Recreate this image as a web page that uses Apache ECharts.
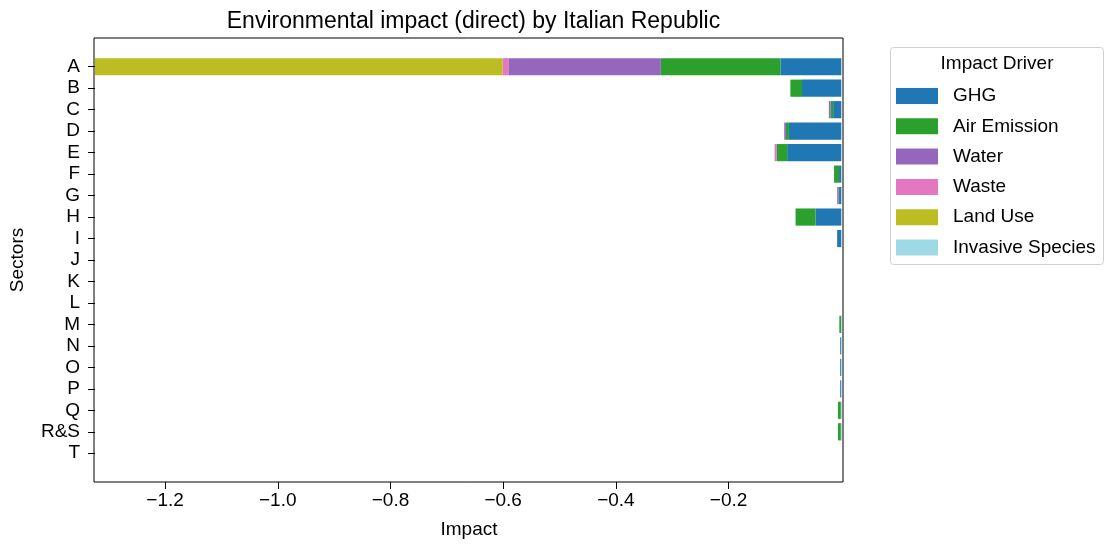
<!DOCTYPE html>
<html>
<head>
<meta charset="utf-8">
<script src="https://cdn.jsdelivr.net/npm/echarts@6/dist/echarts.min.js"></script>
<style>
  html, body { margin: 0; padding: 0; background: #fff; }
  #chart { width: 1107px; height: 546px; }
</style>
</head>
<body>
<div id="chart"></div>
<script>
// Sectors (top to bottom)
const sectors = ['A','B','C','D','E','F','G','H','I','J','K','L','M','N','O','P','Q','R&S','T'];

// Impact per driver and sector
const ghg       = [-0.108, -0.0697, -0.0145, -0.093, -0.0961, -0.004, -0.004, -0.0457, -0.0074, 0, 0, 0, -0.0005, -0.002, -0.002, -0.002, -0.001, -0.001, 0];
const airEm     = [-0.2122, -0.0207, -0.0046, -0.0053, -0.0183, -0.0089, -0.001, -0.0355, 0, 0, 0, 0, -0.003, 0, 0, 0, -0.005, -0.005, 0];
const water     = [-0.2706, 0, -0.003, -0.003, -0.001, 0, -0.0023, 0, 0, 0, 0, 0, 0, 0, 0, 0, 0, 0, 0];
const waste     = [-0.0101, 0, 0, 0, -0.003, 0, 0, 0, 0, 0, 0, 0, 0, 0, 0, 0, 0, 0, 0];
const landUse   = [-0.7234, 0, 0, 0, 0, 0, 0, 0, 0, 0, 0, 0, 0, 0, 0, 0, 0, 0, 0];
const invasive  = [0, 0, 0, 0, 0, 0, 0, 0, 0, 0, 0, 0, 0, 0, 0, 0, 0, 0, 0];

const driverNames = ['GHG', 'Air Emission', 'Water', 'Waste', 'Land Use', 'Invasive Species'];
const driverColors = ['#1f77b4', '#2ca02c', '#9467bd', '#e377c2', '#bcbd22', '#9edae5'];
const driverData = [ghg, airEm, water, waste, landUse, invasive];

// x tick labels
const xTicks = [-1.2, -1.0, -0.8, -0.6, -0.4, -0.2];

const FONT = '"Liberation Sans", Arial, sans-serif';

// axis limit: the most negative stacked total
const totals = sectors.map((_, i) => driverData.reduce((s, arr) => s + arr[i], 0));
const xMin = Math.min(...totals);
const xMax = 0.003;

// plot frame geometry
const frame = { x: 94, y: 38, w: 749, h: 444 };
const bandTop = 56, bandBottom = 464;

const chart = echarts.init(document.getElementById('chart'), null, { renderer: 'canvas' });

const fmt = v => (v < 0 ? '\u2212' : '') + Math.abs(v).toFixed(1);

chart.setOption({
  animation: false,
  title: {
    text: 'Environmental impact (direct) by Italian Republic',
    left: frame.x + frame.w / 2,
    textAlign: 'center',
    top: 5,
    textStyle: { fontFamily: FONT, fontSize: 23, fontWeight: 'normal', color: '#000' }
  },
  grid: {
    left: frame.x,
    width: frame.w,
    top: bandTop,
    height: bandBottom - bandTop
  },
  xAxis: {
    type: 'value',
    min: xMin,
    max: xMax,
    offset: frame.y + frame.h - bandBottom,
    name: 'Impact',
    nameLocation: 'middle',
    nameGap: 38,
    nameTextStyle: { fontFamily: FONT, fontSize: 19, color: '#000' },
    axisLine: { show: false, onZero: false },
    splitLine: { show: false },
    axisTick: { show: true, length: 7, customValues: xTicks, lineStyle: { color: '#000' } },
    axisLabel: {
      customValues: xTicks,
      formatter: fmt,
      margin: 9,
      fontFamily: FONT, fontSize: 19, color: '#000'
    }
  },
  yAxis: {
    type: 'category',
    data: sectors,
    inverse: true,
    name: 'Sectors',
    nameLocation: 'middle',
    nameGap: 68,
    nameRotate: 90,
    nameTextStyle: { fontFamily: FONT, fontSize: 19, color: '#000' },
    axisLine: { show: false, onZero: false },
    axisTick: { show: true, length: 7, alignWithLabel: true, lineStyle: { color: '#000' } },
    axisLabel: { margin: 15, fontFamily: FONT, fontSize: 19, color: '#000', interval: 0 },
    splitLine: { show: false }
  },
  legend: {
    orient: 'vertical',
    left: 896,
    top: 86,
    padding: 0,
    itemWidth: 42,
    itemHeight: 16,
    itemGap: 10.3,
    icon: 'rect',
    selectedMode: false,
    data: driverNames,
    textStyle: { fontFamily: FONT, fontSize: 19, color: '#000', lineHeight: 20, padding: [0, 0, 0, 10] }
  },
  graphic: [
    {
      type: 'rect',
      shape: { x: frame.x, y: frame.y, width: frame.w, height: frame.h },
      style: { fill: null, stroke: '#000', lineWidth: 1 },
      z: 10, silent: true
    },
    {
      type: 'rect',
      shape: { x: 890.5, y: 47.5, width: 213, height: 217, r: 3 },
      style: { fill: 'rgba(255,255,255,0.8)', stroke: '#d0d0d0', lineWidth: 1 },
      z: 0, silent: true
    },
    {
      type: 'text',
      x: 997, y: 64,
      style: { text: 'Impact Driver', fontFamily: FONT, fontSize: 19, fill: '#000', align: 'center', verticalAlign: 'middle' },
      z: 10, silent: true
    }
  ],
  series: driverNames.map((name, k) => ({
    name: name,
    type: 'bar',
    stack: 'impact',
    barWidth: '80%',
    data: driverData[k],
    itemStyle: { color: driverColors[k] }
  }))
});
</script>
</body>
</html>
